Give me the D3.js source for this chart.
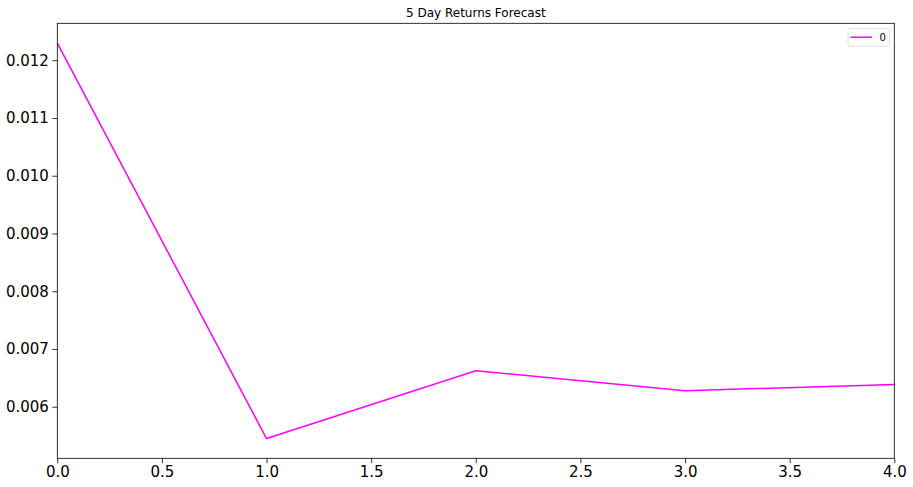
<!DOCTYPE html>
<html>
<head>
<meta charset="utf-8">
<script src="https://cdn.jsdelivr.net/npm/d3@7"></script>
<style>
  body { margin: 0; background: #fff; }
  text { font-family: "DejaVu Sans", sans-serif; fill: #000; }
</style>
</head>
<body>
<div id="container"></div>
<script>
const WIDTH = 913;
const HEIGHT = 487;

// forecast index and values
const steps = [0, 1, 2, 3, 4];
const forecast = [0.012297, 0.00545, 0.006625, 0.006278, 0.006387];
const xTicks = [0, 0.5, 1, 1.5, 2, 2.5, 3, 3.5, 4];
const yTicks = [0.006, 0.007, 0.008, 0.009, 0.010, 0.011, 0.012];
const seriesName = "0";
const title = "5 Day Returns Forecast";

const margin = { top: 23.3, right: 18.7, bottom: 28.7, left: 57.3 };
const w = WIDTH - margin.left - margin.right;
const h = HEIGHT - margin.top - margin.bottom;

const svg = d3.select("#container")
  .append("svg")
  .attr("width", WIDTH)
  .attr("height", HEIGHT);

const g = svg.append("g")
  .attr("transform", `translate(${margin.left},${margin.top})`);

// matplotlib style 5% margin on y
const [ymin, ymax] = d3.extent(forecast);
const pad = (ymax - ymin) * 0.05;

const x = d3.scaleLinear().domain([0, 4]).range([0, w]);
const y = d3.scaleLinear().domain([ymin - pad, ymax + pad]).range([h, 0]);

const line = d3.line()
  .x((d, i) => x(steps[i]))
  .y(d => y(d));

g.append("path")
  .datum(forecast)
  .attr("fill", "none")
  .attr("stroke", "#ff00ff")
  .attr("stroke-width", 1.5)
  .attr("d", line);

const xAxis = g.append("g")
  .attr("transform", `translate(0,${h})`)
  .call(d3.axisBottom(x).tickValues(xTicks).tickFormat(d3.format(".1f")).tickSize(4.9).tickPadding(3.5));

const yAxis = g.append("g")
  .call(d3.axisLeft(y).tickValues(yTicks).tickFormat(d3.format(".3f")).tickSize(4.9).tickPadding(3.5));

[xAxis, yAxis].forEach(a => {
  a.select(".domain").remove();
  a.selectAll("line").attr("stroke", "#000").attr("stroke-width", 0.8);
  a.selectAll("text").attr("font-size", 15).attr("font-family", "DejaVu Sans").attr("fill", "#000");
});

// frame
g.append("rect")
  .attr("width", w)
  .attr("height", h)
  .attr("fill", "none")
  .attr("stroke", "#000")
  .attr("stroke-width", 0.8);

svg.append("text")
  .attr("x", margin.left + w / 2)
  .attr("y", 17)
  .attr("text-anchor", "middle")
  .attr("font-size", 12)
  .text(title);

// legend
const lg = svg.append("g").attr("transform", "translate(848,28.7)");
lg.append("rect")
  .attr("width", 41.5)
  .attr("height", 17.6)
  .attr("rx", 2)
  .attr("fill", "#fff")
  .attr("fill-opacity", 0.8)
  .attr("stroke", "#d9d9d9")
  .attr("stroke-width", 0.8);
lg.append("line")
  .attr("x1", 2.5).attr("x2", 24)
  .attr("y1", 8.5).attr("y2", 8.5)
  .attr("stroke", "#ff00ff")
  .attr("stroke-width", 1.5);
lg.append("text")
  .attr("x", 31.5)
  .attr("y", 12.6)
  .attr("font-size", 10)
  .text(seriesName);
</script>
</body>
</html>
